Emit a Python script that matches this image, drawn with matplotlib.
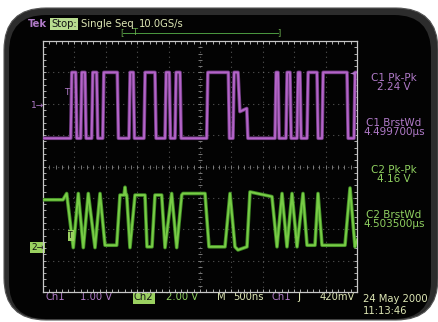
import numpy as np
import matplotlib
matplotlib.use("Agg")
import matplotlib.pyplot as plt
from matplotlib.patches import FancyBboxPatch

# ---- data ----
# time base 500 ns/div, 10 div -> 0..5 us
# channel 1 (1.00 V/div, ground at +2 div): pulse edges in us
ch1_rise = [0.441, 0.600, 0.775, 0.951, 1.369, 1.608, 1.943, 2.102, 2.607,
            3.025, 3.694, 3.869, 4.045, 4.204, 4.443, 4.952]
ch1_fall = [0.521, 0.669, 0.855, 1.183, 1.438, 1.783, 2.011, 2.182, 2.951,
            3.105, 3.742, 3.933, 4.092, 4.363, 4.841, 5.100]
ch1_high = 1.0
ch1_low = -1.1
ch1_step_after = 9          # pulse followed by the half-level step
ch1_step_t = [3.135, 3.245]
ch1_step_v = [-0.25, -0.15]

# channel 2 (2.00 V/div, ground at -2.56 div): breakpoints
ch2_t = [0.0, 0.318, 0.377, 0.482, 0.562, 0.642, 0.721, 0.828, 0.908, 0.987,
         1.174, 1.226, 1.290, 1.306, 1.320, 1.333, 1.385, 1.465, 1.624, 1.656,
         1.736, 1.783, 1.890, 1.943, 2.049, 2.129, 2.209, 2.229, 2.580, 2.643,
         2.898, 2.978, 3.057, 3.105, 3.248, 3.296, 3.646, 3.726, 3.806, 3.885,
         3.965, 4.045, 4.140, 4.204, 4.331, 4.379, 4.443, 4.809, 4.889, 4.968,
         5.0]
ch2_v = [3.0, 3.0, 3.4, -0.05, 3.4, -0.05, 3.4, -0.05, 3.4, 0.1,
         0.1, 3.3, 3.3, 3.8, 3.3, 3.3, -0.05, 3.3, 3.3, 0.0,
         0.0, 3.3, 3.3, -0.05, 3.4, -0.05, 3.3, 3.4, 3.4, 0.0,
         0.0, 3.4, 0.0, -0.2, 0.0, 3.5, 3.2, 0.0, 3.4, 0.0,
         3.4, 0.0, 3.4, 0.1, 0.1, 3.4, 0.1, 0.1, 3.75, 0.0,
         0.45]

ch1_scale, ch1_pos = 1.0, 2.0
ch2_scale, ch2_pos = 2.0, -2.56

readouts = [("C1 Pk-Pk", "2.24 V", "p"), ("C1 BrstWd", "4.499700\u00b5s", "p"),
            ("C2 Pk-Pk", "4.16 V", "g"), ("C2 BrstWd", "4.503500\u00b5s", "g")]

PURPLE = "#b07ac8"
PTRACE = "#b464c8"
GREEN = "#8fd060"
GTRACE = "#78cc46"
PALE = "#dde6b4"
BOXGREEN = "#b8dc90"
GRID = "#8a8a8a"
EDGE = "#c8c8c8"


def square_trace(rise, fall, hi, lo, ramp=0.018):
    t, v = [0.0], [lo]
    for i, (r, f) in enumerate(zip(rise, fall)):
        if i == ch1_step_after:
            t += [r, r + ramp, f, ch1_step_t[0], ch1_step_t[1], ch1_step_t[1] + ramp]
            v += [lo, hi, hi, ch1_step_v[0], ch1_step_v[1], lo]
        else:
            t += [r, r + ramp, f, f + ramp]
            v += [lo, hi, hi, lo]
    return np.array(t), np.array(v)


W, H = 439, 322
fig = plt.figure(figsize=(W / 100, H / 100), dpi=100)
fig.patch.set_facecolor("white")

# pixel-space background axes
bg = fig.add_axes([0, 0, 1, 1])
bg.set_xlim(0, W)
bg.set_ylim(H, 0)
bg.axis("off")
# outer bezel x 4..438, y 8..320 ; inner screen x 9..431, y 15..319
bg.add_patch(FancyBboxPatch((4 + 42, 8 + 42), 434 - 84, 312 - 84,
                            boxstyle="round,pad=42", fc="#2c2c2c", ec="#555555", lw=0.8))
bg.add_patch(FancyBboxPatch((9 + 37, 15 + 37), 422 - 74, 304 - 74,
                            boxstyle="round,pad=37", fc="#030303", ec="none"))

# graticule axes
x0, x1, y0, y1 = 43, 357, 41, 292
ax = fig.add_axes([x0 / W, 1 - y1 / H, (x1 - x0) / W, (y1 - y0) / H])
ax.set_xlim(0, 5)
ax.set_ylim(-4, 4)
ax.set_facecolor("none")
for s in ax.spines.values():
    s.set_color(EDGE)
    s.set_linewidth(0.9)
ax.set_xticks(np.arange(0, 5.01, 0.5))
ax.set_xticks(np.arange(0, 5.01, 0.1), minor=True)
ax.set_yticks(np.arange(-4, 4.01, 1))
ax.set_yticks(np.arange(-4, 4.01, 0.2), minor=True)
ax.tick_params(which="both", direction="in", length=2.2, width=0.6, color=EDGE,
               top=True, right=True, labelbottom=False, labelleft=False)

dots = (0, (0.6, 3.9))
for k in np.arange(0.5, 5, 0.5):
    ax.axvline(k, color=GRID, lw=0.8, ls=dots, zorder=1)
for j in range(-3, 4):
    ax.axhline(j, color=GRID, lw=0.8, ls=dots, zorder=1)
mt = np.arange(0, 5.01, 0.1)
ax.plot(mt, np.zeros_like(mt), ls="none", marker="|", ms=3.5, mew=0.6, color=GRID, zorder=1)
my = np.arange(-4, 4.01, 0.2)
ax.plot(np.full_like(my, 2.5), my, ls="none", marker="_", ms=3.5, mew=0.6, color=GRID, zorder=1)

# traces
t1, v1 = square_trace(ch1_rise, ch1_fall, ch1_high, ch1_low)
ax.plot(t1, v1 / ch1_scale + ch1_pos, color="#6e3a80", lw=2.6, zorder=3)
ax.plot(t1, v1 / ch1_scale + ch1_pos, color=PTRACE, lw=1.4, zorder=4)
t2, v2 = np.array(ch2_t), np.array(ch2_v)
ax.plot(t2, v2 / ch2_scale + ch2_pos, color="#3f8a24", lw=2.6, zorder=3)
ax.plot(t2, v2 / ch2_scale + ch2_pos, color=GTRACE, lw=1.4, zorder=4)

# trigger markers on the traces
ax.text(0.38, 2.35, "T", color=PURPLE, fontsize=6.5, va="center", ha="center", zorder=5)
ax.text(0.44, -2.2, "T", color="#101010", fontsize=5.5, va="center", ha="center", zorder=5,
        bbox=dict(boxstyle="square,pad=0.1", fc="#9ad060", ec="none"))
ax.text(4.93, 3.0, "\u25c4", color=PURPLE, fontsize=4.5, va="center", ha="center", zorder=5)

fs = 7.2
# top status line
bg.text(28, 24, "Tek", color=PURPLE, fontsize=fs, fontweight="bold", va="center")
bg.text(51, 24, "Stop:", color="#151515", fontsize=fs, va="center",
        bbox=dict(boxstyle="square,pad=0.1", fc=BOXGREEN, ec="none"))
bg.text(81, 24, "Single Seq", color=PALE, fontsize=fs, va="center")
bg.text(139, 24, "10.0GS/s", color=PALE, fontsize=fs, va="center")
bg.plot([123, 278], [32.5, 32.5], color="#4c9a40", lw=0.7)
bg.text(122, 32.5, "[", color="#6cb050", fontsize=6, va="center", ha="center")
bg.text(279, 32.5, "]", color="#6cb050", fontsize=6, va="center", ha="center")
bg.text(135, 32, "T", color="#6cb050", fontsize=6, va="center", ha="center")

# channel markers
bg.text(31, 105, "1\u2192", color=PURPLE, fontsize=6.5, va="center")
bg.text(31, 247.5, "2\u2192", color="#101010", fontsize=6.5, va="center",
        bbox=dict(boxstyle="square,pad=0.1", fc="#9ad060", ec="none"))

# right readouts
ys = [(77.5, 87), (123, 132), (169.5, 178.5), (215, 224)]
for (lab, val, c), (ya, yb) in zip(readouts, ys):
    col = PURPLE if c == "p" else GREEN
    bg.text(394, ya, lab, color=col, fontsize=fs + 0.3, ha="center", va="center")
    bg.text(394, yb, val, color=col, fontsize=fs + 0.3, ha="center", va="center")

# bottom readouts
yb = 297.5
bg.text(46, yb, "Ch1", color=PURPLE, fontsize=fs, va="center")
bg.text(80, yb, "1.00 V", color=PURPLE, fontsize=fs, va="center")
bg.text(134, yb, "Ch2", color="#151515", fontsize=fs, va="center",
        bbox=dict(boxstyle="square,pad=0.1", fc="#9ad060", ec="none"))
bg.text(166, yb, "2.00 V", color=GREEN, fontsize=fs, va="center")
bg.text(217, yb, "M", color=PALE, fontsize=fs, va="center")
bg.text(233, yb, "500ns", color=PALE, fontsize=fs, va="center")
bg.text(272, yb, "Ch1", color=PURPLE, fontsize=fs, va="center")
bg.text(297, yb, "\u0283", color=PALE, fontsize=fs + 1, va="center")
bg.text(320, yb, "420mV", color=PALE, fontsize=fs, va="center")
bg.text(363, 299, "24 May 2000", color=PALE, fontsize=fs, va="center")
bg.text(363, 311.5, "11:13:46", color=PALE, fontsize=fs, va="center")

fig.savefig("out.png", dpi=100, facecolor=fig.get_facecolor())
